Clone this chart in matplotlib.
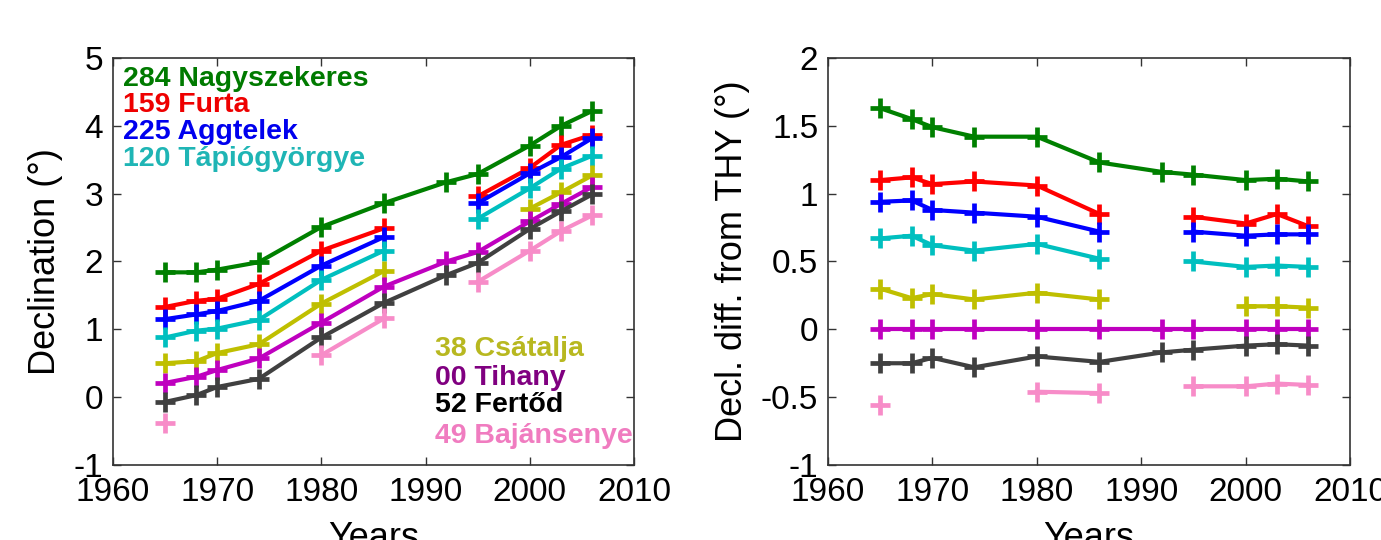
import numpy as np
import matplotlib
matplotlib.use('Agg')
import matplotlib.pyplot as plt

nan = np.nan

years = [1965, 1968, 1970, 1974, 1980, 1986, 1992, 1995, 2000, 2003, 2006]

# declination (deg)
nagyszekeres = [1.84, 1.84, 1.88, 1.99, 2.51, 2.86, 3.17, 3.29, 3.71, 4.00, 4.22]
furta        = [1.33, 1.42, 1.45, 1.67, 2.16, 2.49, nan, 2.96, 3.38, 3.72, 3.87]
aggtelek     = [1.15, 1.22, 1.27, 1.42, 1.94, 2.36, nan, 2.86, 3.30, 3.54, 3.82]
tapiogyorgye = [0.88, 0.98, 1.01, 1.14, 1.73, 2.16, nan, 2.63, 3.08, 3.37, 3.56]
csatalja     = [0.50, 0.53, 0.65, 0.78, 1.38, 1.86, nan, nan, 2.78, 3.02, 3.27]
tihany       = [0.21, 0.30, 0.40, 0.57, 1.10, 1.63, 2.00, 2.14, 2.59, 2.85, 3.10]
fertod       = [-0.07, 0.03, 0.15, 0.27, 0.88, 1.39, 1.80, 1.98, 2.48, 2.74, 2.99]
bajansenye   = [-0.38, nan, nan, nan, 0.62, 1.16, nan, 1.70, 2.16, 2.45, 2.68]

# difference from THY (deg)
d_nagyszekeres = [1.63, 1.55, 1.49, 1.42, 1.42, 1.23, 1.16, 1.14, 1.10, 1.11, 1.09]
d_furta        = [1.10, 1.12, 1.07, 1.09, 1.06, 0.85, nan, 0.83, 0.78, 0.85, 0.76]
d_aggtelek     = [0.94, 0.95, 0.88, 0.86, 0.83, 0.72, nan, 0.72, 0.69, 0.70, 0.70]
d_tapiogyorgye = [0.67, 0.69, 0.62, 0.58, 0.63, 0.52, nan, 0.50, 0.46, 0.47, 0.46]
d_csatalja     = [0.30, 0.23, 0.26, 0.22, 0.27, 0.22, nan, nan, 0.17, 0.17, 0.16]
d_tihany       = [0, 0, 0, 0, 0, 0, 0, 0, 0, 0, 0]
d_fertod       = [-0.25, -0.25, -0.21, -0.28, -0.20, -0.24, -0.17, -0.15, -0.12, -0.11, -0.12]
d_bajansenye   = [-0.56, nan, nan, nan, -0.46, -0.47, nan, -0.42, -0.42, -0.40, -0.41]

labels_top = ['284 Nagyszekeres', '159 Furta', '225 Aggtelek', '120 Tápiógyörgye']
labels_bot = ['38 Csátalja', '00 Tihany', '52 Fertőd', '49 Bajánsenye']

line_colors = ['#008000', '#ff0000', '#0000ff', '#00bfbf',
               '#bfbf00', '#bf00bf', '#404040', '#f78cc8']
text_top_colors = ['#007a00', '#ee0000', '#0000ee', '#1fb5b5']
text_bot_colors = ['#b8b820', '#800080', '#000000', '#f07cc0']

plt.rcParams['font.family'] = ['Liberation Sans', 'DejaVu Sans']
plt.rcParams['axes.unicode_minus'] = False

TICK_FS = 24
LABEL_FS = 26


def style_axes(ax, ylim, yticks, yticklabels):
    ax.set_xlim(1960, 2010)
    ax.set_ylim(*ylim)
    ax.set_xticks([1960, 1970, 1980, 1990, 2000, 2010])
    ax.set_yticks(yticks)
    ax.set_yticklabels(yticklabels)
    ax.tick_params(direction='in', top=True, right=True, length=6, width=1,
                   labelsize=TICK_FS, color='#333333')
    ax.tick_params(axis='x', pad=9)
    ax.tick_params(axis='y', pad=7)
    for sp in ax.spines.values():
        sp.set_linewidth(1.2)
        sp.set_color('#333333')
    ax.set_xlabel('Years', fontsize=LABEL_FS, labelpad=9)


def draw_series(ax, series):
    for vals, color in zip(series, line_colors):
        ax.plot(years, vals, '-', color=color, lw=3, marker='+',
                markersize=14, mew=3.4, clip_on=False)


fig = plt.figure(figsize=(13.81, 5.40), dpi=100)
ax1 = fig.add_axes([0.0818, 0.1389, 0.3773, 0.7537])
ax2 = fig.add_axes([0.5996, 0.1389, 0.3780, 0.7537])

draw_series(ax1, [nagyszekeres, furta, aggtelek, tapiogyorgye,
                  csatalja, tihany, fertod, bajansenye])
style_axes(ax1, (-1, 5), [-1, 0, 1, 2, 3, 4, 5],
           ['-1', '0', '1', '2', '3', '4', '5'])
ax1.set_ylabel('Declination (°)', fontsize=LABEL_FS, labelpad=8)

top_y = [4.69, 4.31, 3.91, 3.51]
for lab, c, y in zip(labels_top, text_top_colors, top_y):
    ax1.text(1960.95, y, lab, color=c, fontsize=20.5, fontweight='bold',
             va='center', ha='left')
bot_y = [0.71, 0.28, -0.12, -0.57]
for lab, c, y in zip(labels_bot, text_bot_colors, bot_y):
    ax1.text(1990.9, y, lab, color=c, fontsize=20.5, fontweight='bold',
             va='center', ha='left')

draw_series(ax2, [d_nagyszekeres, d_furta, d_aggtelek, d_tapiogyorgye,
                  d_csatalja, d_tihany, d_fertod, d_bajansenye])
style_axes(ax2, (-1, 2), [-1, -0.5, 0, 0.5, 1, 1.5, 2],
           ['-1', '-0.5', '0', '0.5', '1', '1.5', '2'])
ax2.set_ylabel('Decl. diff. from THY (°)', fontsize=LABEL_FS, labelpad=8)

fig.savefig('out.png', dpi=100)
